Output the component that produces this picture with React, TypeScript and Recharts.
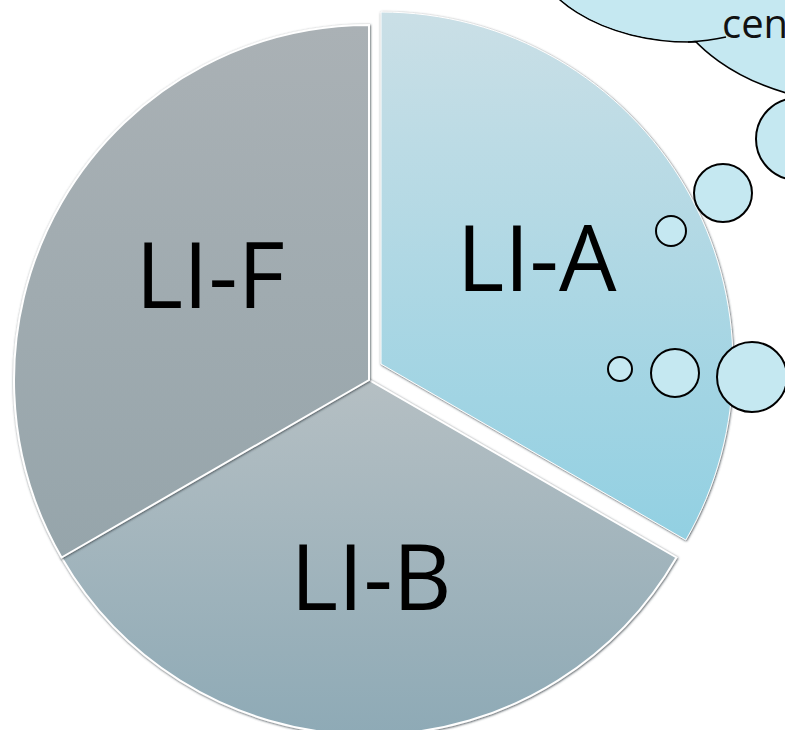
import { PieChart, Pie, Cell } from 'recharts';

// three equal segments, clockwise from 12 o'clock
const segments = ['LI-A', 'LI-B', 'LI-F'];
const shares = [1, 1, 1];
const topColors = ['#cadfe6', '#b5bfc3', '#aab1b5'];
const bottomColors = ['#92d0e2', '#8eaab6', '#96a5ab'];
const exploded = 'LI-A';

const data = segments.map((name, i) => ({ name, value: shares[i] }));

const W = 785;
const H = 730;

// small hand nudges so the labels sit where the original has them
const labelNudge: Record<string, [number, number]> = {
  'LI-A': [-6, -14],
  'LI-B': [2, -3],
  'LI-F': [4, -12],
};

const renderLabel = (props: any) => {
  const { cx, cy, midAngle, outerRadius, name } = props;
  const r = outerRadius * (name === 'LI-B' ? 0.56 : 0.53);
  const rad = (Math.PI / 180) * midAngle;
  const [nx, ny] = labelNudge[name] || [0, 0];
  const x = cx + r * Math.cos(rad) + nx;
  const y = cy - r * Math.sin(rad) + ny;
  return (
    <text
      x={x}
      y={y + 34}
      textAnchor="middle"
      fontSize={91}
      fontFamily="Open Sans, sans-serif"
      fill="#000"
    >
      {name}
    </text>
  );
};

function Bubbles() {
  const circles = [
    { cx: 797, cy: 139, r: 41 },
    { cx: 723, cy: 193, r: 29 },
    { cx: 671, cy: 231, r: 15 },
    { cx: 620, cy: 369, r: 12 },
    { cx: 675, cy: 373, r: 24 },
    { cx: 752, cy: 377, r: 35 },
  ];
  const fill = '#c5e8f1';
  return (
    <svg
      width={W}
      height={H}
      style={{ position: 'absolute', left: 0, top: 0, pointerEvents: 'none' }}
    >
      <ellipse cx={690} cy={-59} rx={160} ry={101} fill={fill} stroke="#000" strokeWidth={1.6} />
      <ellipse cx={860} cy={-40} rx={200} ry={143} fill={fill} stroke="#000" strokeWidth={1.6} />
      {/* cover the second lobe's outline inside the first one */}
      <ellipse cx={690} cy={-59} rx={159} ry={100} fill={fill} />
      <path d="M 688 42 Q 708 41 726 37" fill="none" stroke="#000" strokeWidth={1.6} />
      <text x={722} y={38} fontSize={40} fontFamily="Open Sans, sans-serif" fill="#111">
        cen
      </text>
      {circles.map((c, i) => (
        <circle key={i} {...c} fill={fill} stroke="#000" strokeWidth={2} />
      ))}
    </svg>
  );
}

export default function App() {
  return (
    <div style={{ position: 'absolute', left: 0, top: 0, width: W, height: H, background: '#fff' }}>
      <PieChart width={W} height={H} margin={{ top: 0, right: 0, bottom: 0, left: 0 }}>
        <defs>
          {segments.map((s, i) => (
            <linearGradient key={s} id={`grad${i}`} x1="0" y1="0" x2="0" y2="1">
              <stop offset="0%" stopColor={topColors[i]} />
              <stop offset="100%" stopColor={bottomColors[i]} />
            </linearGradient>
          ))}
          <filter id="edge" x="-10%" y="-10%" width="120%" height="120%">
            <feDropShadow dx={0.6} dy={0.8} stdDeviation={0.8} floodColor="#3f4a4f" floodOpacity={0.95} />
          </filter>
        </defs>
        {/* the two segments that stay in place */}
        <Pie
          data={data}
          dataKey="value"
          nameKey="name"
          cx={369}
          cy={380}
          outerRadius={355}
          startAngle={90}
          endAngle={-270}
          stroke="#ffffff"
          strokeWidth={2}
          label={(p: any) => (p.name === exploded ? null : renderLabel(p))}
          labelLine={false}
          isAnimationActive={false}
        >
          {data.map((d, i) => (
            <Cell
              key={d.name}
              fill={d.name === exploded ? 'none' : `url(#grad${i})`}
              stroke={d.name === exploded ? 'none' : '#ffffff'}
              filter={d.name === exploded ? undefined : 'url(#edge)'}
            />
          ))}
        </Pie>
        {/* the pulled-out segment */}
        <Pie
          data={data}
          dataKey="value"
          nameKey="name"
          cx={381}
          cy={364}
          outerRadius={352}
          startAngle={90}
          endAngle={-270}
          stroke="#ffffff"
          strokeWidth={1}
          label={(p: any) => (p.name === exploded ? renderLabel(p) : null)}
          labelLine={false}
          isAnimationActive={false}
        >
          {data.map((d, i) => (
            <Cell
              key={d.name}
              fill={d.name === exploded ? `url(#grad${i})` : 'none'}
              stroke={d.name === exploded ? '#ffffff' : 'none'}
              filter={d.name === exploded ? 'url(#edge)' : undefined}
            />
          ))}
        </Pie>
      </PieChart>
      <Bubbles />
    </div>
  );
}
